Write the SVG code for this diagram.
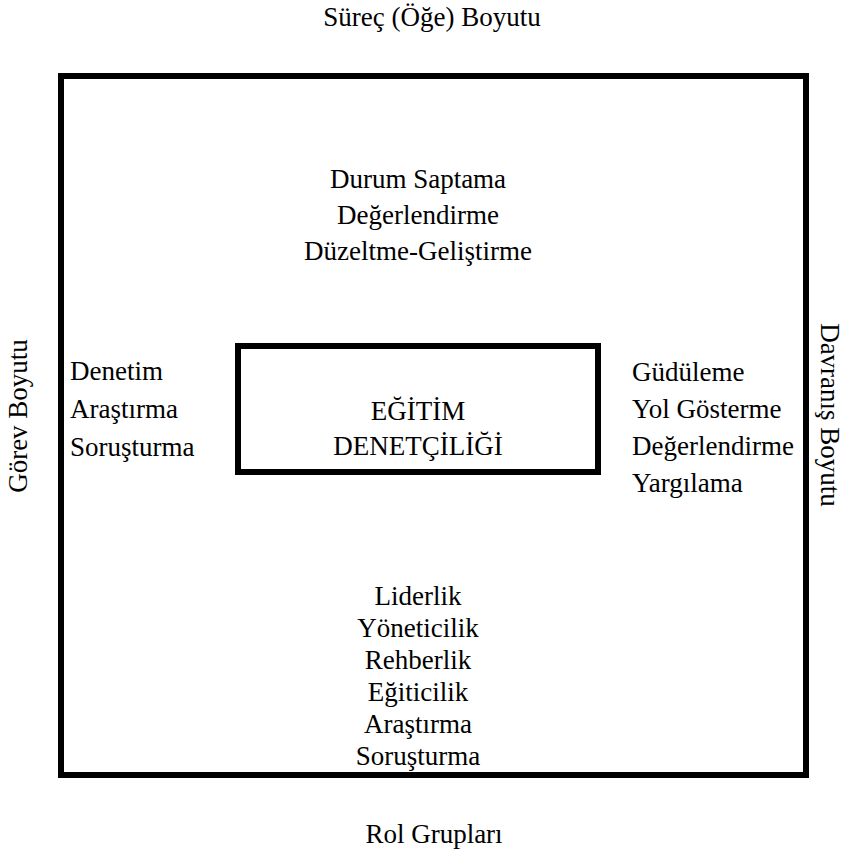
<svg xmlns="http://www.w3.org/2000/svg" width="861" height="854" viewBox="0 0 861 854">
  <rect width="861" height="854" fill="#fff"/>

  <!-- dimension titles around the frame -->
  <g id="title-process">
    <text x="432" y="26" text-anchor="middle" font-size="27" font-family="Liberation Serif" style="font-family:'Liberation Serif','Times New Roman',serif !important">Süreç (Öğe) Boyutu</text>
  </g>
  <g id="title-roles">
    <text x="434" y="843" text-anchor="middle" font-size="27" font-family="Liberation Serif" style="font-family:'Liberation Serif','Times New Roman',serif !important">Rol Grupları</text>
  </g>
  <g id="title-task">
    <text transform="translate(27,416) rotate(-90)" text-anchor="middle" font-size="27" font-family="Liberation Serif" style="font-family:'Liberation Serif','Times New Roman',serif !important">Görev Boyutu</text>
  </g>
  <g id="title-behaviour">
    <text transform="translate(821,415) rotate(90)" text-anchor="middle" font-size="27" font-family="Liberation Serif" style="font-family:'Liberation Serif','Times New Roman',serif !important">Davranış Boyutu</text>
  </g>

  <!-- outer frame -->
  <g id="frame">
    <rect x="61" y="76" width="745" height="699" fill="none" stroke="#000" stroke-width="6"/>
  </g>

  <!-- central node -->
  <g id="center">
    <rect x="238" y="346" width="360" height="126" fill="none" stroke="#000" stroke-width="6"/>
    <text x="418" y="420" text-anchor="middle" font-size="27" font-family="Liberation Serif" style="font-family:'Liberation Serif','Times New Roman',serif !important">EĞİTİM</text>
    <text x="418" y="455" text-anchor="middle" font-size="27" font-family="Liberation Serif" style="font-family:'Liberation Serif','Times New Roman',serif !important">DENETÇİLİĞİ</text>
  </g>

  <!-- process elements -->
  <g id="process-list">
    <text x="418" y="188" text-anchor="middle" font-size="27" font-family="Liberation Serif" style="font-family:'Liberation Serif','Times New Roman',serif !important">Durum Saptama</text>
    <text x="418" y="224" text-anchor="middle" font-size="27" font-family="Liberation Serif" style="font-family:'Liberation Serif','Times New Roman',serif !important">Değerlendirme</text>
    <text x="418" y="260" text-anchor="middle" font-size="27" font-family="Liberation Serif" style="font-family:'Liberation Serif','Times New Roman',serif !important">Düzeltme-Geliştirme</text>
  </g>

  <!-- task elements -->
  <g id="task-list">
    <text x="70" y="380" font-size="27" font-family="Liberation Serif" style="font-family:'Liberation Serif','Times New Roman',serif !important">Denetim</text>
    <text x="70" y="418" font-size="27" font-family="Liberation Serif" style="font-family:'Liberation Serif','Times New Roman',serif !important">Araştırma</text>
    <text x="70" y="456" font-size="27" font-family="Liberation Serif" style="font-family:'Liberation Serif','Times New Roman',serif !important">Soruşturma</text>
  </g>

  <!-- behaviour elements -->
  <g id="behaviour-list">
    <text x="632" y="381" font-size="27" font-family="Liberation Serif" style="font-family:'Liberation Serif','Times New Roman',serif !important">Güdüleme</text>
    <text x="632" y="418" font-size="27" font-family="Liberation Serif" style="font-family:'Liberation Serif','Times New Roman',serif !important">Yol Gösterme</text>
    <text x="632" y="455" font-size="27" font-family="Liberation Serif" style="font-family:'Liberation Serif','Times New Roman',serif !important">Değerlendirme</text>
    <text x="632" y="492" font-size="27" font-family="Liberation Serif" style="font-family:'Liberation Serif','Times New Roman',serif !important">Yargılama</text>
  </g>

  <!-- role groups -->
  <g id="role-list">
    <text x="418" y="605" text-anchor="middle" font-size="27" font-family="Liberation Serif" style="font-family:'Liberation Serif','Times New Roman',serif !important">Liderlik</text>
    <text x="418" y="637" text-anchor="middle" font-size="27" font-family="Liberation Serif" style="font-family:'Liberation Serif','Times New Roman',serif !important">Yöneticilik</text>
    <text x="418" y="669" text-anchor="middle" font-size="27" font-family="Liberation Serif" style="font-family:'Liberation Serif','Times New Roman',serif !important">Rehberlik</text>
    <text x="418" y="701" text-anchor="middle" font-size="27" font-family="Liberation Serif" style="font-family:'Liberation Serif','Times New Roman',serif !important">Eğiticilik</text>
    <text x="418" y="733" text-anchor="middle" font-size="27" font-family="Liberation Serif" style="font-family:'Liberation Serif','Times New Roman',serif !important">Araştırma</text>
    <text x="418" y="765" text-anchor="middle" font-size="27" font-family="Liberation Serif" style="font-family:'Liberation Serif','Times New Roman',serif !important">Soruşturma</text>
  </g>

  <g id="connectors"></g>
</svg>
